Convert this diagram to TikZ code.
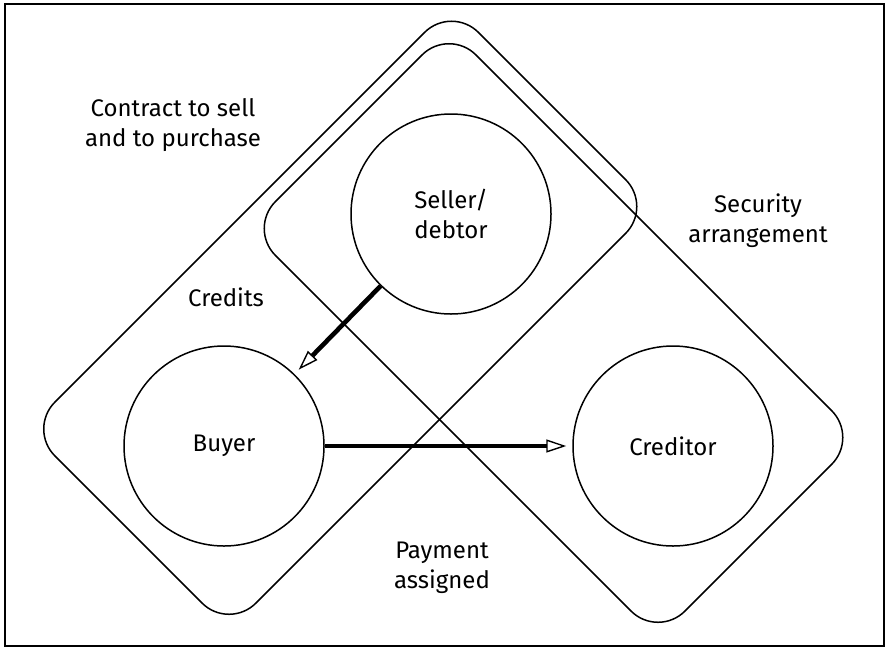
\documentclass[tikz,border=0pt]{standalone}
\usepackage{fontspec}
\setmainfont{Fira Sans}
\usetikzlibrary{arrows.meta}

\begin{document}
\begin{tikzpicture}[x=0.5pt, y=-0.5pt, line width=0.75pt,
    font=\fontsize{12}{15}\selectfont,
    party/.style={circle, draw, minimum size=100pt, inner sep=0pt, align=center},
    tag/.style={align=center},
    flow/.style={line width=2.3pt, shorten >=3pt,
      -{Triangle[open, length=10pt, width=6.5pt, line width=0.7pt]}}]
    \useasboundingbox (0,0) rectangle (886,648);
    \draw[line width=1.2pt] (5,4) rectangle (884,646);

    % contract between buyer and seller
    \draw[rounded corners=19pt] (28,429) -- (451.5,5.5) -- (652.5,206.5) -- (229,630) -- cycle;
    % security arrangement between seller and creditor
    \draw[rounded corners=19pt] (248.5,228.5) -- (449,28) -- (858.5,437.5) -- (658,638) -- cycle;

    \node[party] (S) at (451,214) {Seller/\\debtor};
    \node[party] (B) at (224,446) {Buyer};
    \node[party] (C) at (673,446) {Creditor};

    \node[tag] (K) at (173,125) {Contract to sell\\and to purchase};
    \node[tag] (D) at (226,297) {Credits};
    \node[tag] (A) at (758,221) {Security\\arrangement};
    \node[tag] (P) at (442,568) {Payment\\assigned};

    \path[flow]
    (S) edge (B)
    (B) edge (C);
\end{tikzpicture}
\end{document}
